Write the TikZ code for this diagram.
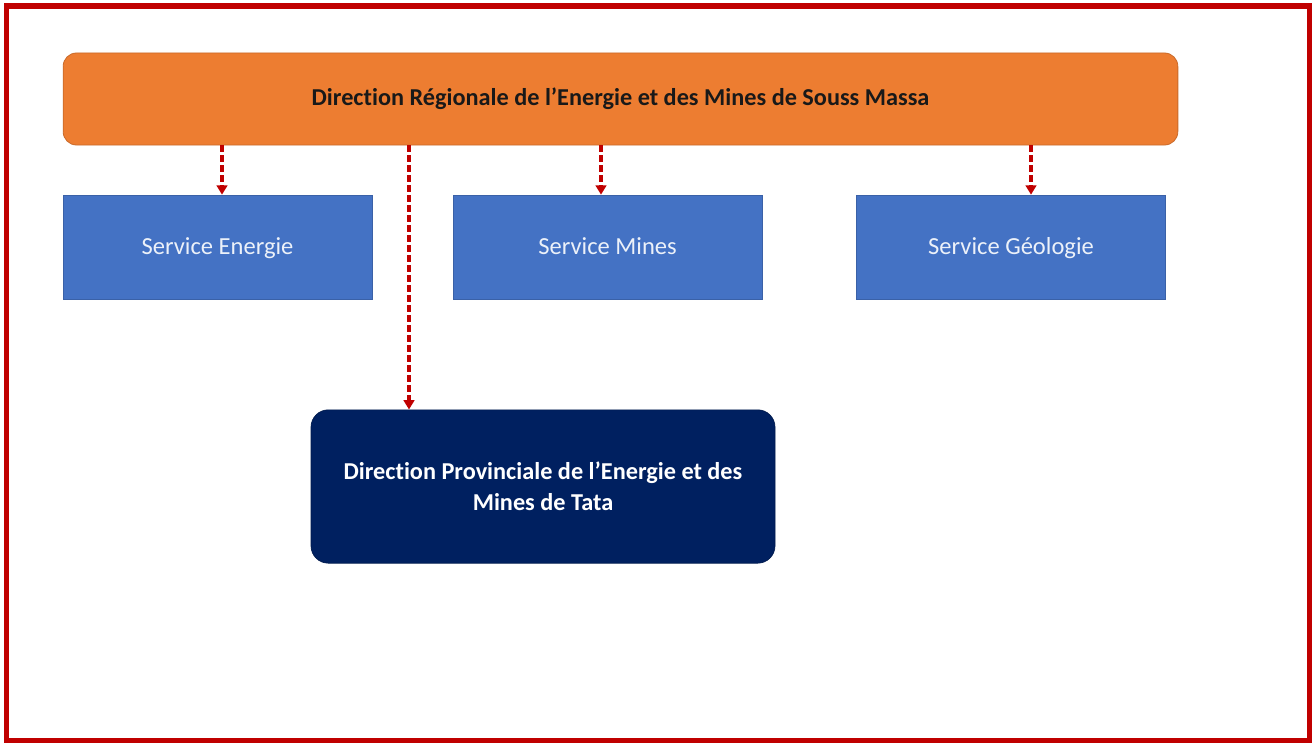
\documentclass[tikz,border=0pt]{standalone}
\usepackage{fontspec}
\setmainfont{Carlito}[Ligatures=NoCommon, RawFeature={-liga;-calt}]
\usetikzlibrary{arrows.meta}
\definecolor{frame}{HTML}{C00000}
\definecolor{orangebox}{HTML}{ED7D31}
\definecolor{bluebox}{HTML}{4472C4}
\definecolor{navybox}{HTML}{002060}
\definecolor{arrowred}{HTML}{C00000}
\begin{document}
\begin{tikzpicture}[x=0.75pt,y=-0.75pt,
  headbox/.style={draw=orangebox!85!black, line width=0.6pt, fill=orangebox, rounded corners=10pt, minimum width=836pt, minimum height=69pt, font=\fontsize{18.2}{22}\selectfont\bfseries, text=black!90, inner sep=0pt},
  servbox/.style={fill=bluebox, draw=bluebox!85!black, line width=0.5pt, minimum width=232pt, minimum height=78pt, font=\fontsize{18.4}{22}\selectfont, text=white!90!bluebox, inner sep=0pt, text height=12.5pt, text depth=1pt},
  provbox/.style={fill=navybox, draw=navybox!80!black, line width=0.5pt, rounded corners=13pt, minimum width=348pt, minimum height=115pt, font=\fontsize{18.2}{23.5}\selectfont\bfseries, text=white, align=center, inner sep=0pt},
  link/.style={draw=arrowred, line width=2.8pt, dash pattern=on 5pt off 2.5pt, -{Triangle[length=7pt,width=8pt]}}
]
\useasboundingbox (0,0) rectangle (1312,742);
\fill[white] (0,0) rectangle (1312,742);
\draw[frame, line width=3.8pt] (6.5,6) rectangle (1309.5,740.5);

\node[headbox] (dr) at (620.5,99) {Direction Régionale de l’Energie et des Mines de Souss Massa};
\node[servbox] (se) at (217.5,247) {Service Energie};
\node[servbox] (sm) at (607.5,247) {Service Mines};
\node[servbox] (sg) at (1011,247) {Service Géologie};
\node[provbox] (dp) at (543,486.5) {Direction Provinciale de l’Energie et des\\Mines de Tata};

\coordinate (a1) at (222,145);
\coordinate (a2) at (409,145);
\coordinate (a3) at (601,145);
\coordinate (a4) at (1031,145);

\draw[link] (a1) -- (a1 |- se.north);
\draw[link] (a2) -- (a2 |- dp.north);
\draw[link] (a3) -- (a3 |- sm.north);
\draw[link] (a4) -- (a4 |- sg.north);
\end{tikzpicture}
\end{document}
